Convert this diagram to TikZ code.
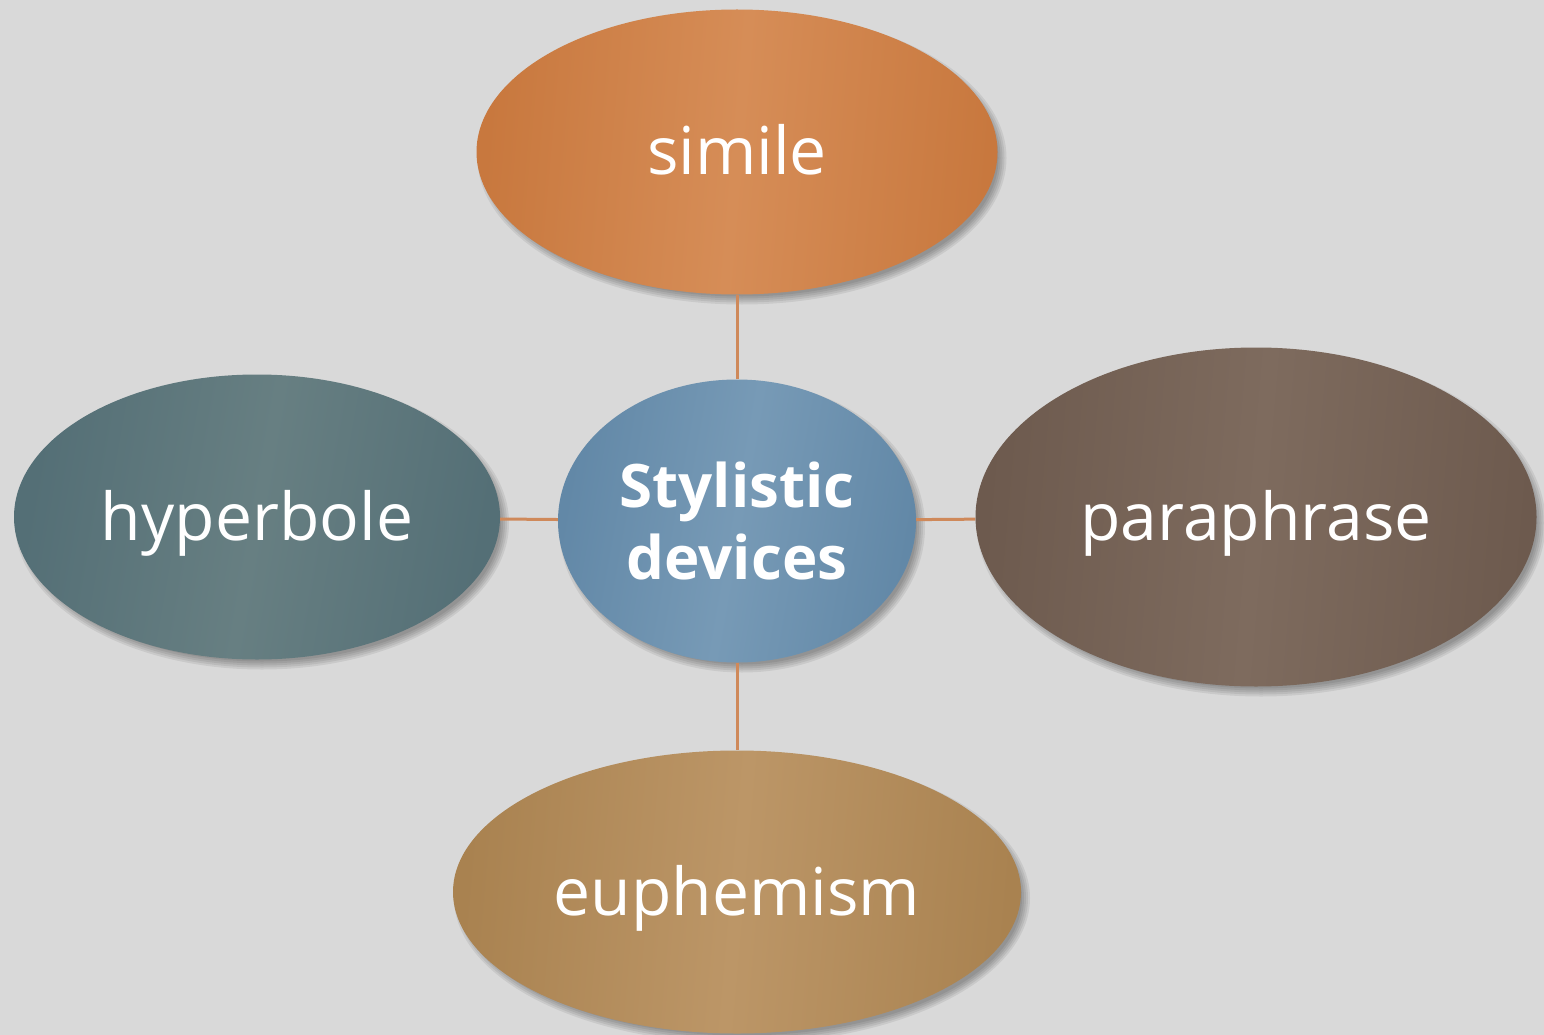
\documentclass[tikz,border=0pt]{standalone}
\usepackage{fontspec}
\setmainfont{Open Sans}
\usetikzlibrary{shapes.geometric}
\pgfdeclarelayer{bglayer}
\pgfdeclarelayer{shadowlayer}
\pgfdeclarelayer{edgelayer}
\pgfsetlayers{bglayer,shadowlayer,edgelayer,main}
\definecolor{bgc}{HTML}{D9D9D9}
\definecolor{linec}{HTML}{CF895A}
\definecolor{simA}{HTML}{C8783E}\definecolor{simB}{HTML}{D68D57}
\definecolor{hypA}{HTML}{546F76}\definecolor{hypB}{HTML}{677F82}
\definecolor{cenA}{HTML}{6288A7}\definecolor{cenB}{HTML}{779AB6}
\definecolor{parA}{HTML}{6D5A4E}\definecolor{parB}{HTML}{7E6B5E}
\definecolor{eupA}{HTML}{A98250}\definecolor{eupB}{HTML}{BC9667}
\tikzset{
  blob/.style={ellipse, inner sep=0pt, text=white, font=\fontsize{66}{72}\selectfont, text height=56pt, text depth=10pt},
  link/.style={draw=linec, line width=3pt},
  shadowpiece/.style={fill=black, opacity=0.07}
}
\newcommand{\softshadow}[3]{%
  \foreach \d in {4,2,0,-2,-4} {
    \fill[shadowpiece] ([xshift=5pt,yshift=-6pt]#1.center) ellipse [x radius=#2+\d, y radius=#3+\d];
  }}
\begin{document}
\begin{tikzpicture}[x=1pt,y=-1pt]
\useasboundingbox (0,0) rectangle (1544,1035);
\node[blob, minimum width=521pt, minimum height=285pt, left color=simA, right color=simA, middle color=simB, shading angle=85] (simile) at (737,152) {simile};
\node[blob, minimum width=486pt, minimum height=285pt, left color=hypA, right color=hypA, middle color=hypB, shading angle=80] (hyper) at (257,517) {hyperbole};
\node[ellipse, inner sep=0pt, text=white, minimum width=358pt, minimum height=283pt, left color=cenA, right color=cenA, middle color=cenB, shading angle=80, font=\bfseries\fontsize{60}{72}\selectfont, align=center] (center) at (737,521) {\raisebox{-7pt}{Stylistic}\\\raisebox{-7pt}{devices}};
\node[blob, minimum width=561pt, minimum height=339pt, left color=parA, right color=parA, middle color=parB, shading angle=85] (para) at (1256,517) {paraphrase};
\node[blob, minimum width=568pt, minimum height=283pt, left color=eupA, right color=eupA, middle color=eupB, shading angle=85] (euph) at (737,892) {euphemism};
\begin{pgfonlayer}{bglayer}
\fill[bgc] (0,0) rectangle (1544,1035);
\end{pgfonlayer}
\begin{pgfonlayer}{shadowlayer}
\softshadow{simile}{260.5}{142.5}
\softshadow{hyper}{243}{142.5}
\softshadow{center}{179}{141.5}
\softshadow{para}{280.5}{169.5}
\softshadow{euph}{284}{141.5}
\end{pgfonlayer}
\begin{pgfonlayer}{edgelayer}
\draw[link] (center) -- (simile);
\draw[link] (center) -- (euph);
\draw[link] (center) -- (hyper);
\draw[link] (center) -- (para);
\end{pgfonlayer}
\end{tikzpicture}
\end{document}
